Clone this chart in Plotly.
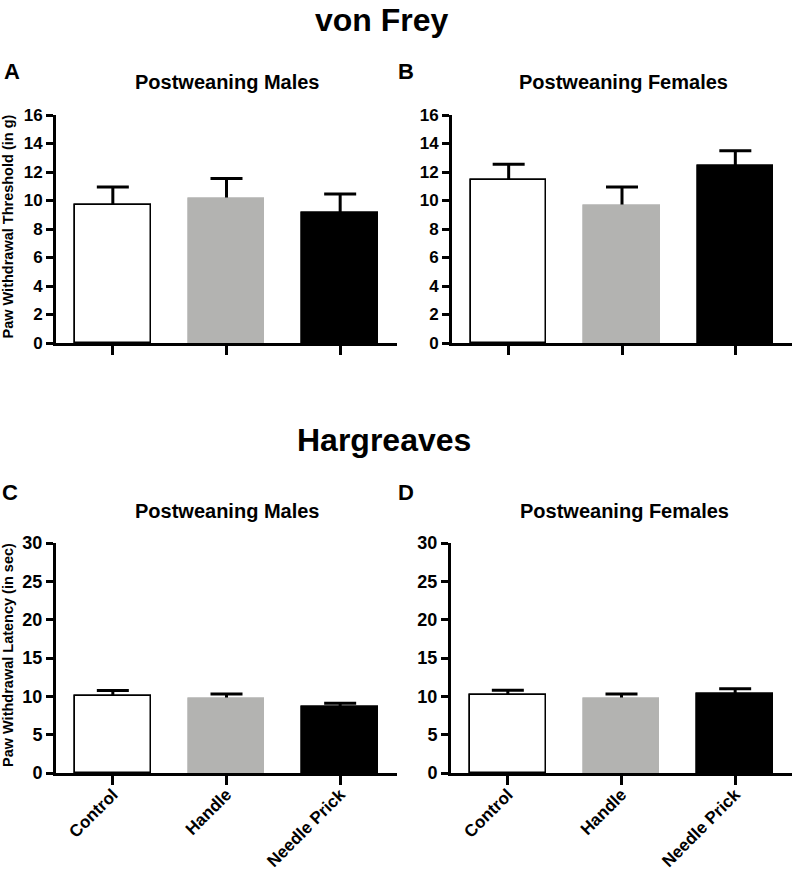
"""von Frey / Hargreaves withdrawal tests - postweaning males vs females"""

import plotly.graph_objects as go

FONT = 'Liberation Sans, Arial, sans-serif'
W, H = 800, 873

groups = ['Control', 'Handle', 'Needle Prick']
bar_colors = ['#FFFFFF', '#B3B3B1', '#000000']
bar_edges = ['#000000', '#B3B3B1', '#000000']

# means and SEM
vf_males_mean = [9.65, 10.1, 9.15]
vf_males_sem = [1.3, 1.45, 1.3]
vf_females_mean = [11.45, 9.6, 12.4]
vf_females_sem = [1.1, 1.35, 1.1]
hg_males_mean = [10.0, 9.6, 8.6]
hg_males_sem = [0.75, 0.7, 0.5]
hg_females_mean = [10.2, 9.7, 10.3]
hg_females_sem = [0.6, 0.6, 0.7]

vf_ticks = [0, 2, 4, 6, 8, 10, 12, 14, 16]
hg_ticks = [0, 5, 10, 15, 20, 25, 30]


def px_x(p):
    return p / W


def px_y(p):
    return 1 - p / H


# (mean, sem, axis suffix, x domain px, y domain px, y ticks, show labels)
panels = [
    (vf_males_mean, vf_males_sem, '', (56, 397), (343, 115), vf_ticks, False),
    (vf_females_mean, vf_females_sem, '2', (452, 792), (343, 115), vf_ticks, False),
    (hg_males_mean, hg_males_sem, '3', (56, 397), (773, 543), hg_ticks, True),
    (hg_females_mean, hg_females_sem, '4', (451, 792), (773, 543), hg_ticks, True),
]

fig = go.Figure()
layout = {}
for mean, sem, ax, (x0, x1), (yb, yt), yticks, show_lbl in panels:
    # first bar carries the error bars, second one hides their lower half
    fig.add_trace(go.Bar(
        x=groups, y=mean, width=0.667, xaxis='x' + ax, yaxis='y' + ax,
        marker=dict(color=bar_colors, line=dict(color=bar_edges, width=1.5)),
        error_y=dict(type='data', array=sem, color='black', thickness=3, width=16),
        showlegend=False,
    ))
    fig.add_trace(go.Bar(
        x=groups, y=mean, width=0.667, xaxis='x' + ax, yaxis='y' + ax,
        marker=dict(color=bar_colors, line=dict(color=bar_edges, width=1.5)),
        showlegend=False,
    ))
    tick_size = 18 if show_lbl else 17
    layout['xaxis' + ax] = dict(
        domain=[px_x(x0), px_x(x1)], anchor='y' + ax, range=[-0.5, 2.5],
        automargin=False,
        showline=True, linewidth=3, linecolor='black', showgrid=False, zeroline=False,
        ticks='outside', ticklen=9, tickwidth=3, tickcolor='black',
        showticklabels=show_lbl, tickangle=-45, ticklabelstandoff=-7,
        tickfont=dict(family=FONT, size=17, color='black', weight='bold'),
    )
    layout['yaxis' + ax] = dict(
        domain=[px_y(yb), px_y(yt)], anchor='x' + ax, range=[0, yticks[-1]],
        automargin=False,
        tickvals=yticks, showline=True, linewidth=3, linecolor='black',
        showgrid=False, zeroline=False,
        ticks='outside', ticklen=7, tickwidth=3, tickcolor='black',
        tickfont=dict(family=FONT, size=tick_size, color='black', weight='bold'),
    )


def note(text, x, y, size, angle=0):
    return dict(text=text, x=px_x(x), y=px_y(y), xref='paper', yref='paper',
                xanchor='center', yanchor='middle', showarrow=False, textangle=angle,
                font=dict(family=FONT, size=size, color='black', weight='bold'))


annotations = [
    note('von Frey', 382, 20, 32),
    note('Hargreaves', 384, 440, 32),
    note('A', 12, 71.5, 22), note('B', 405.5, 71.5, 22),
    note('C', 10, 492.5, 22), note('D', 406, 492.5, 22),
    note('Postweaning Males', 228, 82, 20),
    note('Postweaning Females', 623, 82, 20),
    note('Postweaning Males', 228, 510.5, 20),
    note('Postweaning Females', 624, 510.5, 20),
    note('Paw Withdrawal Threshold (in g)', 8, 226.5, 14.5, -90),
    note('Paw Withdrawal Latency (in sec)', 8, 655, 14.5, -90),
]

fig.update_layout(
    template='none',
    width=W, height=H, margin=dict(l=0, r=0, t=0, b=0, autoexpand=False),
    paper_bgcolor='white', plot_bgcolor='white',
    barmode='overlay', bargap=0,
    font=dict(family=FONT, color='black'),
    annotations=annotations,
    **layout,
)

# page has a default 8px body margin; drop it so the figure fills the window
fig.write_html('out.html', config={'displayModeBar': False},
               post_script="document.body.style.margin = '0';")
